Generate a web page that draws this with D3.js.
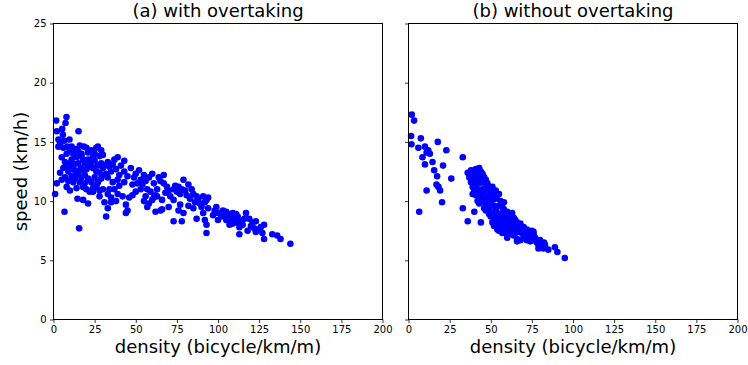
<!DOCTYPE html>
<html>
<head>
<meta charset="utf-8">
<script src="https://cdn.jsdelivr.net/npm/d3@7"></script>
<style>
  body { margin: 0; background: #fff; }
  svg { display: block; font-family: "DejaVu Sans", sans-serif; }
</style>
</head>
<body>
<div id="chart"></div>
<script>
// Chart texts and ticks
const panelTitles = ["(a) with overtaking", "(b) without overtaking"];
const xLabel = "density (bicycle/km/m)";
const yLabel = "speed (km/h)";
const xTicks = [0, 25, 50, 75, 100, 125, 150, 175, 200];
const yTicks = [0, 5, 10, 15, 20, 25];

// (a) with overtaking: [density, speed]
const withOvertaking = [
  [1.6,16.8],[2,15.9],[7.9,17.1],[7.3,16.6],[5.3,16.1],[5.7,15.6],[15.2,15.9],[3,15.2],[4,14.9],[9.7,15.2],
  [11,14.6],[6,14.5],[8,14.0],[5,13.7],[7,13.3],[10,13.2],[14,13.7],[16,14.7],[20,14.5],[27,14.6],
  [29,14.3],[24,13.7],[22,12.9],[18,13.5],[13,12.6],[9,12.5],[4,12.4],[11,12.1],[2,11.5],[5,11.8],
  [1,10.6],[10,10.9],[14,11.1],[16,11.6],[19,11.5],[14.6,10.2],[18,10.1],[21,9.8],[6.7,9.1],[15.6,7.7],
  [3,14.6],[6.5,15.1],[8.5,14.6],[10,14.3],[12,14.0],[13,14.4],[15,14.2],[17,14.0],[18.5,14.6],[21,14.1],
  [23,14.3],[25,14.0],[26,14.5],[28,13.8],[30,13.9],[11,13.5],[12.5,13.1],[15,13.2],[16.5,12.8],[17,13.8],
  [19,13.2],[20,12.7],[21,13.5],[22,14.2],[23,13.2],[24,12.8],[25,13.4],[26,12.5],[27,13.0],[28,12.4],
  [29,13.2],[30,12.8],[31,12.2],[19,12.2],[21,11.9],[23,11.6],[25,12.0],[27,11.6],[29,11.9],[12,11.6],
  [13,11.9],[15,12.3],[17,12.0],[18,11.2],[20,11.0],[22,10.8],[24,11.1],[26,11.3],[28,10.9],[8,11.2],
  [9,11.7],[7,12.0],[6,12.8],[8,13.0],[18,12.6],[14,12.4],[10,12.7],
  [32,12.3],[34,12.9],[37,13.5],[39,13.7],[43,13.4],[43,12.5],[45,12.1],[43,11.6],[40,11.3],[42,10.4],
  [44,9.7],[45,9.2],[44,9.0],[24,10.8],[26,11.2],[28,10.4],[31,9.9],[33,9.4],[32,8.7],[35,9.9],
  [38,10.0],[37,11.0],[34,11.0],[33,12.0],[35,12.5],[36,13.1],[38,12.7],[40,12.2],[41,13.0],[36,11.6],
  [39,11.8],[47,12.8],[48,11.4],[48,10.5],[46,10.3],[33,10.6],[35,10.3],[31,13.0],[33,13.3],[30,11.0],[39,10.6],
  [50,12.3],[55,12.2],[60,12.3],[67,12.2],[65,11.7],[53,11.8],[53,11.0],[56,10.4],[60,10.1],[57,9.5],
  [62,9.1],[65,9.2],[66,10.1],[63,11.0],[61,11.5],[69,11.2],[52,12.6],[54,11.4],[56,11.7],[57,11.0],
  [58,12.0],[59,10.8],[62,10.5],[64,12.0],[51,11.5],[55,10.0],[58,9.8],[61,10.3],[63,10.4],[67,11.5],
  [68,10.7],[70,10.9],[66,9.3],[50,10.8],[49,12.0],
  [73,11.0],[76,11.2],[79,11.8],[82,11.4],[84,11.0],[77,10.6],[81,10.5],[87,10.4],[91,10.4],[93,10.1],
  [89,9.8],[73,10.1],[77,9.7],[70,9.5],[79,9.0],[73,8.3],[78,8.3],[87,8.5],[92,8.4],[93,8.0],
  [93,7.3],[75,10.8],[80,10.9],[83,10.2],[85,10.6],[86,9.9],[88,10.2],[90,9.5],[92,9.9],[94,10.3],
  [94,9.4],[91,9.0],[85,9.4],[76,9.2],[82,9.6],[71,10.4],[78,11.0],[74,11.3],
  [99,9.5],[101,9.0],[105,9.1],[109,9.0],[112,8.7],[117,9.0],[119,8.5],[123,8.3],[128,8.0],[105,8.4],
  [109,8.1],[113,7.8],[118,7.5],[123,7.4],[125,7.6],[113,7.2],[128,6.8],[133,7.2],[136,7.1],[138,6.8],
  [144,6.4],[100,8.4],[100,9.0],[102,8.7],[103,9.2],[104,8.7],[106,8.9],[107,8.5],[108,8.8],[110,8.4],
  [111,8.9],[114,8.3],[115,8.0],[116,8.5],[120,7.9],[121,8.2],[122,7.7],[126,7.8],[127,7.3],[98,9.2],
  [97,8.8],[111,8.2],[107,8.0]
];

// (b) without overtaking: [density, speed]
const withoutOvertaking = [
  [2,17.3],[3.4,16.8],[1.6,15.5],[1.8,14.8],[7.5,15.3],[6,14.5],[10,14.6],[12,14.3],[13,14.0],[8.5,13.7],
  [10,13.1],[14.6,13.3],[15.6,12.6],[17.4,12.1],[17.8,15.0],[23,14.3],[21,13.0],[26,11.9],[33,13.7],[11,10.9],
  [17,11.4],[18.2,11.2],[19.2,10.9],[20.4,9.9],[6.5,9.1],[33,9.4],[36,8.3],[40,9.1],[44,8.2],[11,14.1],
  [36,12.4],[37,12.0],[38,12.6],[39,12.2],[40,12.6],[41,12.3],[42,12.6],[43,12.2],[44,12.5],[38,11.6],
  [39,11.2],[40,11.8],[41,11.4],[42,11.9],[43,11.5],[44,11.9],[45,11.6],[46,12.0],[39,10.6],[40,10.9],
  [41,10.5],[42,11.0],[43,10.7],[44,10.3],[45,11.0],[46,10.7],[47,11.3],[48,11.5],[49,11.0],[42,10.0],
  [43,9.8],[44,9.9],[45,10.2],[46,9.9],[47,10.4],[48,10.1],[49,10.5],[50,10.8],[51,11.2],[52,10.6],
  [46,9.4],[47,9.2],[48,9.6],[49,9.3],[50,9.8],[51,10.1],[52,9.6],[53,10.2],[54,10.5],[55,10.6],
  [49,8.9],[50,8.7],[51,9.0],[52,8.6],[53,9.3],[54,9.0],[55,9.6],[56,10.0],[57,9.5],[51,8.2],
  [52,7.9],[53,8.4],[54,8.1],[55,8.6],[56,8.8],[57,9.0],[58,9.3],[59,8.9],[60,9.1],[54,7.6],
  [55,7.5],[56,7.9],[57,8.2],[58,8.5],[59,8.1],[60,8.5],[61,8.8],[62,8.9],[63,9.0],[57,7.3],
  [58,7.6],[59,7.3],[60,7.7],[61,7.9],[62,8.2],[63,8.4],[64,8.6],[65,8.4],[60,6.9],[61,7.2],
  [62,7.5],[63,7.7],[64,7.9],[65,7.8],[66,8.2],[67,8.0],[68,8.1],[64,7.1],[65,7.3],[66,6.8],
  [67,7.4],[68,7.6],[69,7.3],[70,7.8],[71,7.5],[72,7.6],[66,6.6],[68,6.7],[70,7.0],[71,6.8],
  [72,7.1],[73,7.3],[74,7.0],[75,7.5],[76,7.2],[72,6.7],[74,6.6],[76,6.7],[77,6.9],[78,6.5],
  [79,6.3],[80,6.7],[81,6.4],[83,6.3],[79,6.0],[82,6.0],[85,5.9],[89,6.1],[90.5,5.7],[95,5.2],
  [76,7.4],[82.4,6.5],[53,10.9],[58,9.9],[45,12.3],[47,11.8],[50,10.2],[43,12.8],[41,12.7]
];

const panelData = [withOvertaking, withoutOvertaking];

const W = 748, H = 365;
const panelLeft = [53.5, 408.5];
const panelWidth = 329;
const plotTop = 23.5, plotHeight = 296;

const svg = d3.select("#chart").append("svg")
  .attr("width", W).attr("height", H);

const y = d3.scaleLinear().domain([0, 25]).range([plotTop + plotHeight, plotTop]);

panelData.forEach((pts, i) => {
  const x = d3.scaleLinear().domain([0, 200])
    .range([panelLeft[i], panelLeft[i] + panelWidth]);

  const g = svg.append("g");

  // points
  g.append("g").selectAll("circle")
    .data(pts)
    .join("circle")
    .attr("cx", d => x(d[0]))
    .attr("cy", d => y(d[1]))
    .attr("r", 3.3)
    .attr("fill", "#0000ff");

  // x axis
  const xa = g.append("g")
    .attr("transform", `translate(0,${plotTop + plotHeight})`)
    .call(d3.axisBottom(x).tickValues(xTicks).tickSize(3.5).tickPadding(2.5));
  xa.select(".domain").remove();
  xa.selectAll("text").attr("font-size", 10).attr("font-family", "DejaVu Sans").attr("fill", "#000");
  xa.selectAll("line").attr("stroke", "#000").attr("stroke-width", 0.8);

  // y axis
  const ya = g.append("g")
    .attr("transform", `translate(${panelLeft[i]},0)`)
    .call(d3.axisLeft(y).tickValues(yTicks).tickSize(3.5).tickPadding(3.5)
      .tickFormat(i === 0 ? d3.format("d") : () => ""));
  ya.select(".domain").remove();
  ya.selectAll("text").attr("font-size", 10).attr("font-family", "DejaVu Sans").attr("fill", "#000");
  ya.selectAll("line").attr("stroke", "#000").attr("stroke-width", 0.8);

  // frame
  g.append("rect")
    .attr("x", panelLeft[i]).attr("y", plotTop)
    .attr("width", panelWidth).attr("height", plotHeight)
    .attr("fill", "none").attr("stroke", "#000").attr("stroke-width", 1);

  // title
  g.append("text")
    .attr("x", panelLeft[i] + panelWidth / 2).attr("y", 17)
    .attr("text-anchor", "middle").attr("font-size", 18)
    .text(panelTitles[i]);

  // x label
  g.append("text")
    .attr("x", panelLeft[i] + panelWidth / 2).attr("y", 353)
    .attr("text-anchor", "middle").attr("font-size", 18)
    .text(xLabel);
});

// y label
svg.append("text")
  .attr("transform", `translate(26.5,${plotTop + plotHeight / 2}) rotate(-90)`)
  .attr("text-anchor", "middle").attr("font-size", 18)
  .text(yLabel);
</script>
</body>
</html>
